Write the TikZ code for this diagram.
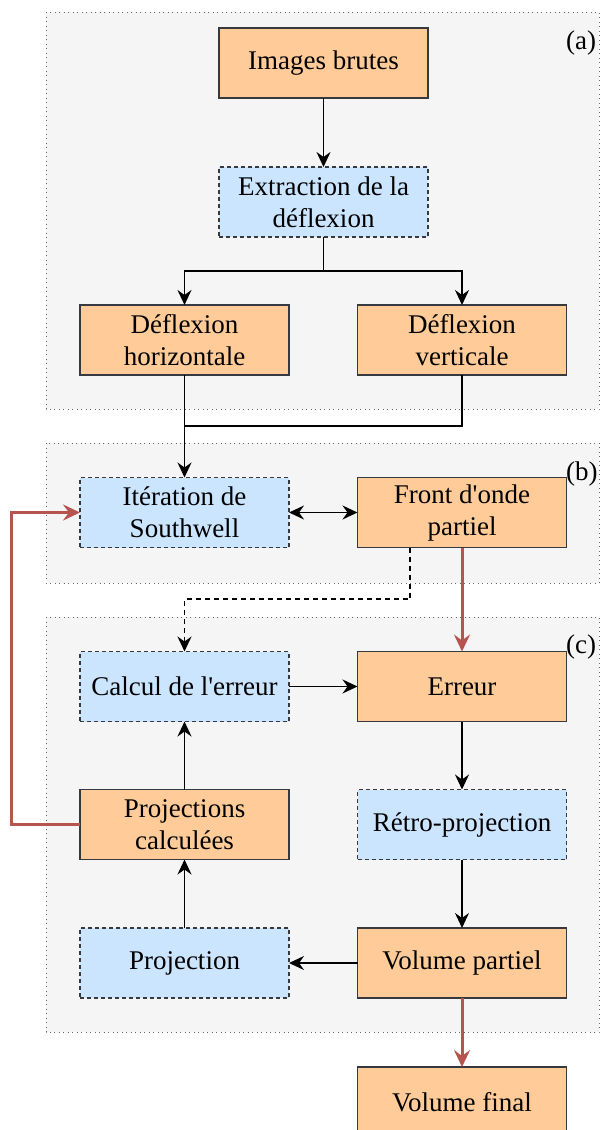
\documentclass[tikz,border=0pt]{standalone}
\usepackage{fontspec}
\setmainfont{Liberation Serif}
\usetikzlibrary{arrows.meta,positioning}
\definecolor{boxorange}{HTML}{FFCC99}
\definecolor{boxblue}{HTML}{CCE5FF}
\definecolor{boxline}{HTML}{36393D}
\definecolor{groupfill}{HTML}{F5F5F5}
\definecolor{groupline}{HTML}{666666}
\definecolor{loopred}{HTML}{B85450}

\begin{document}
\begin{tikzpicture}[x=1pt, y=-1pt,
    font=\fontsize{27}{32}\selectfont,
    base/.style={minimum width=209pt, minimum height=70pt, align=center, inner sep=0pt, outer sep=0pt, draw=boxline, line width=1.5pt},
    data/.style={base, fill=boxorange},
    proc/.style={base, fill=boxblue, dashed, dash pattern=on 4pt off 3pt},
    group/.style={fill=groupfill, draw=groupline, line width=1pt, dash pattern=on 1pt off 3.5pt},
    tag/.style={anchor=west, inner sep=0pt},
    tip/.style={arrows={-Stealth[length=15pt, width=14pt, inset=5pt]}},
    flow/.style={line width=1.8pt, tip},
    redflow/.style={line width=3pt, draw=loopred, arrows={-Stealth[length=17pt, width=16pt, inset=6pt]}}
  ]
    \useasboundingbox (0,0) rectangle (600,1130);
    \fill[white] (0,0) rectangle (600,1130);
    \draw[group] (46,12) rectangle (599,409);
    \draw[group] (46,443) rectangle (599,583);
    \draw[group] (46,617) rectangle (599,1032);

    \node[data] (brutes) at (323.5,63) {Images brutes};
    \node[proc] (extraction) at (323.5,202) {Extraction de la\\déflexion};
    \node[data] (horizontale) at (184.5,340) {Déflexion\\horizontale};
    \node[data] (verticale) at (462,340) {Déflexion\\verticale};
    \node[proc] (iteration) at (184.5,512.5) {Itération de\\Southwell};
    \node[data] (front) at (462,512.5) {Front d\textquotesingle onde\\partiel};
    \node[proc] (calcul) at (184.5,686.5) {Calcul de l\textquotesingle erreur};
    \node[data] (erreur) at (462,686.5) {Erreur};
    \node[data] (projcalc) at (184.5,824.5) {Projections\\calculées};
    \node[proc] (retro) at (462,824.5) {Rétro-projection};
    \node[proc] (projection) at (184.5,963) {Projection};
    \node[data] (volpart) at (462,963) {Volume partiel};
    \node[data] (volfinal) at (462,1102) {Volume final};

    \node[tag] (taga) at (566,43) {(a)};
    \node[tag] (tagb) at (566,474) {(b)};
    \node[tag] (tagc) at (566,647) {(c)};

    \coordinate (split) at (323.5,271);
    \coordinate (merge) at (184.5,426);
    \coordinate (dashturn) at (410,599);
    \coordinate (back) at (11,0);

    \draw[flow] (brutes) -- (extraction);
    \draw[flow] (extraction) -- (split) -| (horizontale);
    \draw[flow] (split) -| (verticale);
    \draw[flow] (horizontale) -- (iteration);
    \draw[line width=1.8pt] (verticale) |- (merge);
    \draw[line width=1.8pt, arrows={Stealth[length=15pt, width=14pt, inset=5pt]-Stealth[length=15pt, width=14pt, inset=5pt]}] (iteration) -- (front);
    \draw[flow, dashed, dash pattern=on 5pt off 4pt] (front.south -| dashturn) -- (dashturn) -| (calcul);
    \draw[redflow] (front) -- (erreur);
    \draw[flow] (calcul) -- (erreur);
    \draw[flow] (erreur) -- (retro);
    \draw[flow] (retro) -- (volpart);
    \draw[flow] (volpart) -- (projection);
    \draw[flow] (projection) -- (projcalc);
    \draw[flow] (projcalc) -- (calcul);
    \draw[redflow] (projcalc.west) -- (projcalc.west -| back) |- (iteration.west);
    \draw[redflow] (volpart) -- (volfinal);
\end{tikzpicture}
\end{document}
